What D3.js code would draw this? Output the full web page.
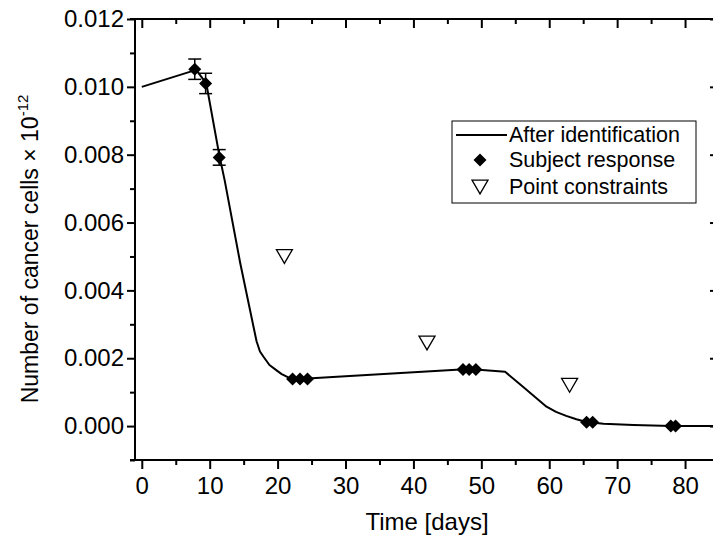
<!DOCTYPE html>
<html>
<head>
<meta charset="utf-8">
<script src="https://cdn.jsdelivr.net/npm/d3@7"></script>
<style>
body{margin:0;background:#fff;}
svg text{font-family:"Liberation Sans",Arial,sans-serif;fill:#000;}
</style>
</head>
<body>
<svg id="chart"></svg>
<script>
// cancer cell count: model after identification vs subject data

var fitDays = [0, 8, 9.5, 11.4, 12.2, 14.5, 16.9, 17.4, 17.9, 18.8, 19.8, 20.6, 21.5, 22.5, 24.4, 35, 48.2, 53.5, 56, 59.6, 61, 62.5, 64, 65.5, 68, 72.4, 78, 85];
var fitCells = [0.0100, 0.0105, 0.0101, 0.0080, 0.00725, 0.0048, 0.0025, 0.0022, 0.00205, 0.0018, 0.00165, 0.00153, 0.00144, 0.0014, 0.0014, 0.00153, 0.00168, 0.0016, 0.00118, 0.00057, 0.00042, 0.0003, 0.0002, 0.00012, 0.00007, 0.00003, 0.0, 0.0];

var subjDays = [7.8, 9.4, 11.4, 22.2, 23.3, 24.4, 47.3, 48.2, 49.2, 65.5, 66.4, 77.9, 78.6];
var subjCells = [0.01052, 0.0101, 0.00792, 0.00139, 0.00139, 0.00139, 0.00167, 0.00167, 0.00167, 0.00011, 0.00011, 0.0, 0.0];
var subjErr = [0.0003, 0.0003, 0.00023, 0, 0, 0, 0, 0, 0, 0, 0, 0, 0];

var constraintDays = [21, 42, 63];
var constraintCells = [0.005, 0.00245, 0.0012];

var xTicks = [0, 10, 20, 30, 40, 50, 60, 70, 80];
var xMinor = [5, 15, 25, 35, 45, 55, 65, 75];
var yTicks = [0, 0.002, 0.004, 0.006, 0.008, 0.010, 0.012];
var yMinor = [-0.001, 0.001, 0.003, 0.005, 0.007, 0.009, 0.011];
var legendLabels = ['After identification', 'Subject response', 'Point constraints'];

var draw = function(){
    const width = 713, height = 545;
    const left = 135, right = 719, top = 19, bottom = 460;

    var svg = d3.select('svg#chart')
    .attr('width', width)
    .attr('height', height);

    var x = d3.scaleLinear().domain([-1, 85]).range([left, right]);
    var y = d3.scaleLinear().domain([-0.001, 0.012]).range([bottom, top]);

    // custom markers, centred on their box like the original
    var diamond = {
        draw: function(context, size){
            let r = Math.sqrt(size)/2;
            context.moveTo(0, -r);
            context.lineTo(r, 0);
            context.lineTo(0, r);
            context.lineTo(-r, 0);
            context.closePath();
        }
    }
    var triangleDown = {
        draw: function(context, size){
            let w = Math.sqrt(size);
            let h = w*0.866;
            context.moveTo(-w/2, -h/2);
            context.lineTo(w/2, -h/2);
            context.lineTo(0, h/2);
            context.closePath();
        }
    }
    let diamondPath = d3.symbol().type(diamond).size(169);
    let trianglePath = d3.symbol().type(triangleDown).size(256);

    function styleAxis(g){
        g.select('.domain').remove();
        g.selectAll('.tick line').attr('stroke', '#000').attr('stroke-width', 2);
        g.selectAll('text').style('font-size', '24px').attr('fill', '#000');
    }

    // bottom axis
    svg.append('g')
    .attr('transform', 'translate(0,' + bottom + ')')
    .call(d3.axisBottom(x).tickValues(xTicks).tickSize(9).tickPadding(8).tickFormat(d3.format('d')))
    .call(styleAxis);
    svg.append('g')
    .attr('transform', 'translate(0,' + bottom + ')')
    .call(d3.axisBottom(x).tickValues(xMinor).tickSize(5).tickFormat(''))
    .call(styleAxis);

    // top axis, ticks inward
    svg.append('g')
    .attr('transform', 'translate(0,' + top + ')')
    .call(d3.axisTop(x).tickValues(xTicks).tickSize(-9).tickFormat(''))
    .call(styleAxis);
    svg.append('g')
    .attr('transform', 'translate(0,' + top + ')')
    .call(d3.axisTop(x).tickValues(xMinor).tickSize(-5).tickFormat(''))
    .call(styleAxis);

    // left axis
    svg.append('g')
    .attr('transform', 'translate(' + left + ',0)')
    .call(d3.axisLeft(y).tickValues(yTicks).tickSize(8).tickPadding(3).tickFormat(d3.format('.3f')))
    .call(styleAxis);
    svg.append('g')
    .attr('transform', 'translate(' + left + ',0)')
    .call(d3.axisLeft(y).tickValues(yMinor).tickSize(5).tickFormat(''))
    .call(styleAxis);

    // right axis, ticks inward
    svg.append('g')
    .attr('transform', 'translate(' + right + ',0)')
    .call(d3.axisRight(y).tickValues(yTicks).tickSize(-9).tickFormat(''))
    .call(styleAxis);
    svg.append('g')
    .attr('transform', 'translate(' + right + ',0)')
    .call(d3.axisRight(y).tickValues(yMinor).tickSize(-5).tickFormat(''))
    .call(styleAxis);

    // frame
    let frame = svg.append('g')
    .attr('stroke', '#000')
    .attr('stroke-width', 2);
    frame.append('line').attr('x1', left-5).attr('x2', right).attr('y1', bottom).attr('y2', bottom);
    frame.append('line').attr('x1', left-5).attr('x2', right).attr('y1', top).attr('y2', top);
    frame.append('line').attr('x1', left).attr('x2', left).attr('y1', top).attr('y2', bottom);
    frame.append('line').attr('x1', right).attr('x2', right).attr('y1', top).attr('y2', bottom);

    // model line
    let line = d3.line()
    .x(i => x(fitDays[i]))
    .y(i => y(fitCells[i]));

    svg.append('path')
    .attr('d', line(d3.range(fitDays.length)))
    .attr('fill', 'none')
    .attr('stroke', '#000')
    .attr('stroke-width', 2)
    .attr('stroke-linejoin', 'round');

    // error bars
    let idx = d3.range(subjDays.length).filter(i => subjErr[i] > 0);
    let bars = svg.append('g')
    .attr('stroke', '#000')
    .attr('stroke-width', 1.5)
    .selectAll('g')
    .data(idx)
    .enter().append('g');
    bars.append('line')
    .attr('x1', i => x(subjDays[i])).attr('x2', i => x(subjDays[i]))
    .attr('y1', i => y(subjCells[i]-subjErr[i])).attr('y2', i => y(subjCells[i]+subjErr[i]));
    bars.append('line')
    .attr('x1', i => x(subjDays[i])-6.5).attr('x2', i => x(subjDays[i])+6.5)
    .attr('y1', i => y(subjCells[i]+subjErr[i])).attr('y2', i => y(subjCells[i]+subjErr[i]));
    bars.append('line')
    .attr('x1', i => x(subjDays[i])-6.5).attr('x2', i => x(subjDays[i])+6.5)
    .attr('y1', i => y(subjCells[i]-subjErr[i])).attr('y2', i => y(subjCells[i]-subjErr[i]));

    // subject response
    svg.append('g')
    .selectAll('path')
    .data(d3.range(subjDays.length))
    .enter().append('path')
    .attr('d', diamondPath)
    .attr('transform', i => 'translate(' + x(subjDays[i]) + ',' + y(subjCells[i]) + ')')
    .attr('fill', '#000');

    // point constraints
    svg.append('g')
    .selectAll('path')
    .data(d3.range(constraintDays.length))
    .enter().append('path')
    .attr('d', trianglePath)
    .attr('transform', i => 'translate(' + x(constraintDays[i]) + ',' + y(constraintCells[i]) + ')')
    .attr('fill', '#fff')
    .attr('stroke', '#000')
    .attr('stroke-width', 1.3);

    // axis titles
    svg.append('text')
    .attr('x', (left+right)/2)
    .attr('y', 530)
    .attr('text-anchor', 'middle')
    .style('font-size', '24px')
    .text('Time [days]');

    let ylab = svg.append('text')
    .attr('transform', 'translate(38,249) rotate(-90)')
    .attr('text-anchor', 'middle')
    .style('font-size', '23px');
    ylab.append('tspan').text('Number of cancer cells \u00d7 10');
    ylab.append('tspan').attr('dy', -10).style('font-size', '15px').text('-12');

    // legend
    let legend = svg.append('g')
    .attr('transform', 'translate(452,121)');
    legend.append('rect')
    .attr('width', 244)
    .attr('height', 82)
    .attr('fill', '#fff')
    .attr('stroke', '#000')
    .attr('stroke-width', 1);
    let rowY = [14, 39, 66];
    legend.append('line')
    .attr('x1', 4).attr('x2', 55)
    .attr('y1', rowY[0]).attr('y2', rowY[0])
    .attr('stroke', '#000').attr('stroke-width', 2);
    legend.append('path')
    .attr('d', diamondPath)
    .attr('transform', 'translate(28,' + rowY[1] + ')')
    .attr('fill', '#000');
    legend.append('path')
    .attr('d', trianglePath)
    .attr('transform', 'translate(28,' + rowY[2] + ')')
    .attr('fill', '#fff')
    .attr('stroke', '#000')
    .attr('stroke-width', 1.3);
    legend.selectAll('text.lab')
    .data(legendLabels)
    .enter().append('text')
    .attr('class', 'lab')
    .attr('x', 57)
    .attr('y', (d, i) => rowY[i] + 7)
    .style('font-size', '21.5px')
    .text(d => d);
}

draw();
</script>
</body>
</html>
